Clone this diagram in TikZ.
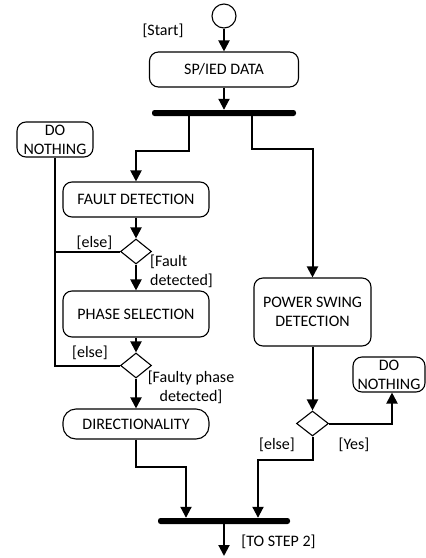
\documentclass[tikz,border=0pt]{standalone}
\usepackage{fontspec}
\setmainfont{Carlito}
\usetikzlibrary{arrows.meta,shapes.geometric}

\begin{document}
\begin{tikzpicture}[x=1pt,y=-1pt,
  act/.style={draw,line width=1.1pt,rounded corners=9pt,align=center,inner sep=0pt,font=\fontsize{16}{19}\selectfont},
  cond/.style={draw,diamond,line width=1.1pt,inner sep=0pt,minimum width=31pt,minimum height=25pt},
  bar/.style={fill=black,rounded corners=2.5pt,minimum width=144pt,minimum height=6pt,inner sep=0pt},
  flow/.style={line width=2pt,-{Triangle[length=11pt,width=11pt]}},
  link/.style={line width=2pt},
  guard/.style={font=\fontsize{16}{19}\selectfont,inner sep=0pt}]
  \useasboundingbox (0,0) rectangle (426,558);
  \node[draw,circle,line width=1.1pt,minimum size=24pt,inner sep=0pt] (start) at (224,16) {};
  \node[guard] (startlbl) at (163,31) {[Start]};
  \node[act,minimum width=149pt,minimum height=35pt] (data) at (224,69.5) {SP/IED DATA};
  \node[bar] (fork) at (224,113) {};
  \node[act,minimum width=76pt,minimum height=35pt] (idle1) at (55,139.5) {DO\\NOTHING};
  \node[act,minimum width=146pt,minimum height=35pt] (fault) at (136,199.5) {FAULT DETECTION};
  \node[cond] (isfault) at (136,251.5) {};
  \node[act,minimum width=146pt,minimum height=46pt] (phase) at (136,314) {PHASE SELECTION};
  \node[cond] (isphase) at (136,365.5) {};
  \node[act,rounded corners=13pt,minimum width=146pt,minimum height=30pt] (dir) at (136,424) {DIRECTIONALITY};
  \node[act,minimum width=117pt,minimum height=68pt] (swing) at (312.5,312) {POWER SWING\\DETECTION};
  \node[cond,minimum width=32pt] (isswing) at (312.5,423.5) {};
  \node[act,minimum width=72pt,minimum height=35pt] (idle2) at (389,374.5) {DO\\NOTHING};
  \node[bar,minimum width=132pt] (join) at (224,521) {};
  \coordinate (next) at (224,556);
  \node[guard] (elselbl1) at (94.5,243) {[else]};
  \node[guard,align=left,anchor=west] (faultlbl) at (150,271.5) {[Fault\\detected]};
  \node[guard] (elselbl2) at (90,353) {[else]};
  \node[guard,align=center] (phaselbl) at (191,387) {[Faulty phase\\detected]};
  \node[guard] (elselbl3) at (277,445) {[else]};
  \node[guard] (yeslbl) at (354,445) {[Yes]};
  \node[guard] (steplbl) at (278.5,542) {[TO STEP 2]};
  \draw[flow] (start) -- (data);
  \draw[flow] (data) -- (fork);
  \draw[flow] ([xshift=-35pt]fork.south) -- ++(0,35) -| (fault.north);
  \draw[flow] ([xshift=28pt]fork.south) -- ++(0,33) -| (swing.north);
  \draw[flow] (fault) -- (isfault);
  \draw[flow] (isfault) -- (phase);
  \draw[flow] (phase) -- (isphase);
  \draw[flow] (isphase) -- (dir);
  \draw[link] (idle1.south) |- (isphase.west);
  \draw[link] (isfault.west) -- (isfault.west -| idle1.south);
  \draw[flow] (swing) -- (isswing);
  \draw[flow] (isswing.east) -| ([xshift=3pt]idle2.south);
  \draw[flow] (isswing.south) -- ++(0,23) -| ([xshift=34pt]join.north);
  \draw[flow] (dir.south) -- ++(0,27) -| ([xshift=-38pt]join.north);
  \draw[flow] (join) -- (next);
\end{tikzpicture}
\end{document}
